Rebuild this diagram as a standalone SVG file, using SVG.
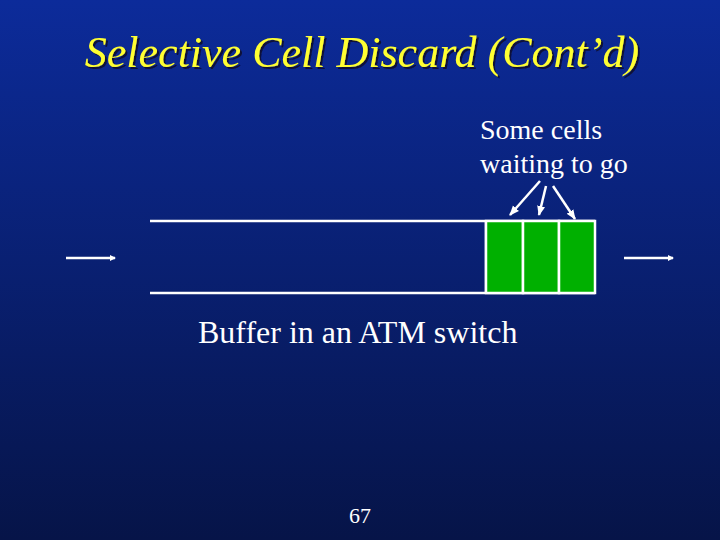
<svg xmlns="http://www.w3.org/2000/svg" width="720" height="540" viewBox="0 0 720 540">
<defs>
<linearGradient id="bg" x1="0" y1="0" x2="0" y2="1">
<stop offset="0" stop-color="#0c2b9a"/>
<stop offset="1" stop-color="#061448"/>
</linearGradient>
<filter id="sh" x="-5%" y="-20%" width="110%" height="140%">
<feDropShadow dx="2" dy="2" stdDeviation="0.5" flood-color="#101030" flood-opacity="0.9"/>
</filter>
<marker id="ah" markerWidth="6" markerHeight="6" refX="5" refY="3" orient="auto" markerUnits="userSpaceOnUse">
<path d="M0,0 L6,3 L0,6 Z" fill="#fff"/>
</marker>
<marker id="ah2" markerWidth="10" markerHeight="10" refX="9" refY="5" orient="auto" markerUnits="userSpaceOnUse">
<path d="M0,1 L10,5 L0,9 Z" fill="#fff"/>
</marker>
</defs>
<style>
text{font-family:"Liberation Serif","DejaVu Serif","Times New Roman",serif}
.t{fill:#fff}
.ln{stroke:#fff;stroke-width:2.5;fill:none}
.cell{fill:#00b000;stroke:#fff;stroke-width:2.5}
</style>
<rect width="720" height="540" fill="url(#bg)"/>
<g id="title">
<text x="362" y="67" text-anchor="middle" font-style="italic" font-size="44" fill="#ffff33" filter="url(#sh)">Selective Cell Discard (Cont’d)</text>
</g>
<g id="buffer">
<line class="ln" x1="150" y1="221" x2="595" y2="221"/>
<line class="ln" x1="150" y1="293" x2="595" y2="293"/>
<line class="ln" x1="486" y1="221" x2="486" y2="293"/>
</g>
<g id="cells">
<rect class="cell" x="486" y="221" width="37" height="72"/>
<rect class="cell" x="523" y="221" width="36" height="72"/>
<rect class="cell" x="559" y="221" width="36" height="72"/>
</g>
<g id="connectors">
<line class="ln" stroke-width="2" x1="66" y1="258" x2="115" y2="258" marker-end="url(#ah)"/>
<line class="ln" stroke-width="2" x1="624" y1="258" x2="673" y2="258" marker-end="url(#ah)"/>
<line class="ln" stroke-width="2" x1="540" y1="181" x2="510" y2="215" marker-end="url(#ah2)"/>
<line class="ln" stroke-width="2" x1="546" y1="186" x2="539" y2="215" marker-end="url(#ah2)"/>
<line class="ln" stroke-width="2" x1="553" y1="186" x2="575" y2="219" marker-end="url(#ah2)"/>
</g>
<g id="label-cells">
<text class="t" x="480" y="139" font-size="28">Some cells</text>
<text class="t" x="480" y="173" font-size="28">waiting to go</text>
</g>
<g id="label-buffer">
<text class="t" x="198" y="343" font-size="32">Buffer in an ATM switch</text>
</g>
<g id="page">
<text class="t" x="360" y="523" font-size="22" text-anchor="middle">67</text>
</g>
</svg>
